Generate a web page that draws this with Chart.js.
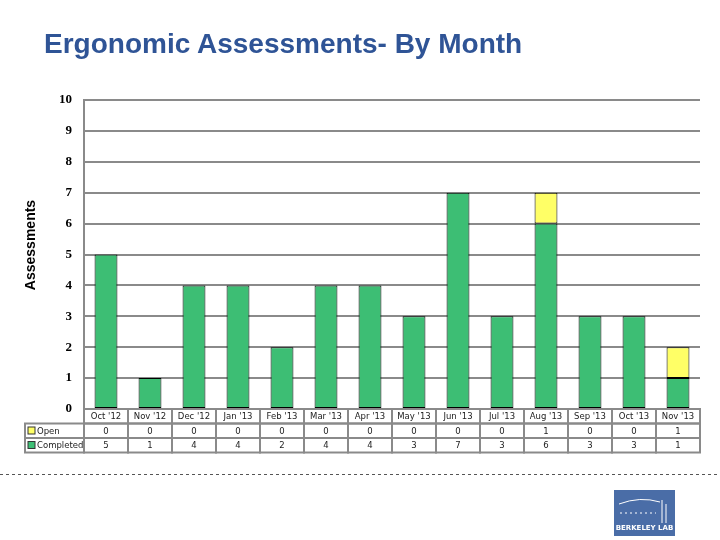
<!DOCTYPE html>
<html>
<head>
<meta charset="utf-8">
<script src="https://cdn.jsdelivr.net/npm/chart.js@4"></script>
<style>
  body { margin: 0; background: #fff; }
  #wrap { position: relative; width: 720px; height: 540px; }
  #title { position: absolute; left: 44px; top: 28px; font: bold 28px "Liberation Sans", Arial, sans-serif; color: #2F5496; white-space: nowrap; }
  #valueChart { position: absolute; left: 0; top: 0; }
</style>
</head>
<body>
<div id="wrap">
  <canvas id="valueChart" width="720" height="540"></canvas>
  <div id="title">Ergonomic Assessments- By Month</div>
</div>
<script>
const months = ["Oct '12", "Nov '12", "Dec '12", "Jan '13", "Feb '13", "Mar '13", "Apr '13",
                "May '13", "Jun '13", "Jul '13", "Aug '13", "Sep '13", "Oct '13", "Nov '13"];
const completed = [5, 1, 4, 4, 2, 4, 4, 3, 7, 3, 6, 3, 3, 1];
const open = [0, 0, 0, 0, 0, 0, 0, 0, 0, 0, 1, 0, 0, 1];
const yTicks = [0, 1, 2, 3, 4, 5, 6, 7, 8, 9, 10];

const green = '#3DBE74';
const yellow = '#FFFF66';

// data table under the plot, lined up with the x scale
const tablePlugin = {
    id: 'dataTable',
    afterDraw(chart) {
        const c = chart.ctx;
        const xs = chart.scales.x;
        const half = (xs.getPixelForValue(1) - xs.getPixelForValue(0)) / 2;
        const top = chart.chartArea.bottom;
        const rowH = 14.5;
        const rows = [null, { label: 'Open', vals: open, color: yellow }, { label: 'Completed', vals: completed, color: green }];
        c.save();

        // y axis title
        c.save();
        c.translate(31, 245);
        c.rotate(-Math.PI / 2);
        c.fillStyle = '#000';
        c.font = 'bold 14px "Liberation Sans", Arial, sans-serif';
        c.textAlign = 'center';
        c.textBaseline = 'middle';
        c.fillText('Assessments', 0, 0);
        c.restore();

        c.strokeStyle = '#8a8a8a';
        c.lineWidth = 2;
        c.font = '8.5px "DejaVu Sans", Verdana, sans-serif';
        c.textBaseline = 'middle';
        rows.forEach((row, r) => {
            const y = top + r * rowH;
            months.forEach((m, i) => {
                const cx = xs.getPixelForValue(i);
                c.strokeRect(cx - half, y, half * 2, rowH);
                c.fillStyle = '#222';
                c.textAlign = 'center';
                c.fillText(row ? String(row.vals[i]) : m, cx, y + rowH / 2 + 1);
            });
            if (row) {
                const lx = 25, w = chart.chartArea.left - lx;
                c.strokeRect(lx, y, w, rowH);
                c.fillStyle = row.color;
                c.fillRect(lx + 3, y + 3.5, 7, 7);
                c.lineWidth = 1;
                c.strokeStyle = '#333';
                c.strokeRect(lx + 3, y + 3.5, 7, 7);
                c.strokeStyle = '#8a8a8a';
                c.lineWidth = 2;
                c.fillStyle = '#222';
                c.textAlign = 'left';
                c.fillText(row.label, lx + 12, y + rowH / 2 + 1);
            }
        });

        // dashed footer line
        c.strokeStyle = '#555';
        c.lineWidth = 1;
        c.setLineDash([3, 3]);
        c.beginPath();
        c.moveTo(0, 474.5);
        c.lineTo(720, 474.5);
        c.stroke();
        c.setLineDash([]);

        // Berkeley Lab logo
        c.fillStyle = '#4A6DA7';
        c.fillRect(614, 490, 61, 46);
        c.strokeStyle = '#fff';
        c.lineWidth = 1;
        c.beginPath();
        c.moveTo(619, 504);
        c.quadraticCurveTo(640, 496, 660, 502);
        c.moveTo(662, 500);
        c.lineTo(662, 523);
        c.moveTo(666, 504);
        c.lineTo(666, 523);
        c.stroke();
        c.setLineDash([2, 3]);
        c.beginPath();
        c.moveTo(620, 513);
        c.lineTo(656, 513);
        c.stroke();
        c.setLineDash([]);
        c.fillStyle = '#fff';
        c.font = 'bold 7px "DejaVu Sans", sans-serif';
        c.textAlign = 'center';
        c.fillText('BERKELEY LAB', 644.5, 528);
        c.restore();
    }
};

new Chart(document.getElementById('valueChart').getContext('2d'), {
    type: 'bar',
    data: {
        labels: months,
        datasets: [{
            label: 'Completed',
            data: completed,
            backgroundColor: green,
            borderColor: '#000',
            borderWidth: (ctx) => ctx.raw ? 1 : 0,
            borderSkipped: false
        }, {
            label: 'Open',
            data: open,
            backgroundColor: yellow,
            borderColor: '#000',
            borderWidth: (ctx) => ctx.raw ? 1 : 0,
            borderSkipped: false
        }]
    },
    options: {
        responsive: false,
        animation: false,
        barPercentage: 0.52,
        categoryPercentage: 1,
        layout: { padding: { left: 0, right: 20, top: 100, bottom: 131 } },
        plugins: { legend: { display: false }, tooltip: { enabled: false } },
        scales: {
            x: {
                stacked: true,
                grid: { display: false },
                border: { display: false },
                ticks: { display: false },
                afterFit: (s) => { s.height = 0; }
            },
            y: {
                stacked: true,
                min: 0,
                max: 10,
                afterBuildTicks: (s) => { s.ticks = yTicks.map(v => ({ value: v })); },
                afterFit: (s) => { s.width = 84; },
                grid: { color: '#8a8a8a', lineWidth: 2, drawTicks: false },
                border: { color: '#8a8a8a', width: 2 },
                ticks: {
                    color: '#000',
                    padding: 12,
                    font: { family: '"Liberation Serif", "DejaVu Serif", serif', size: 13, weight: 'bold' }
                }
            }
        }
    },
    plugins: [tablePlugin]
});
</script>
</body>
</html>
